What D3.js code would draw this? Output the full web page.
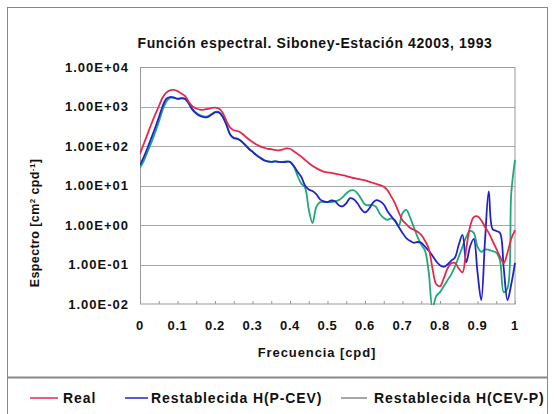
<!DOCTYPE html>
<html><head><meta charset="utf-8">
<script src="https://cdn.jsdelivr.net/npm/d3@7"></script>
<style>body{margin:0;background:#fff}svg{display:block}text{font-family:"Liberation Sans",Arial,sans-serif;font-weight:bold;fill:#111}</style>
</head><body>
<script>
const freq = d3.range(0, 101).map(i => +(i / 100).toFixed(2));
const yTickLabels = ["1.00E+04","1.00E+03","1.00E+02","1.00E+01","1.00E+00","1.00E-01","1.00E-02"];
const yTickValues = [1e4,1e3,1e2,1e1,1e0,1e-1,1e-2];
const xTickValues = [0,0.1,0.2,0.3,0.4,0.5,0.6,0.7,0.8,0.9,1];
const xTickLabels = ["0","0.1","0.2","0.3","0.4","0.5","0.6","0.7","0.8","0.9","1"];
const seriesNames = ["Real","Restablecida H(P-CEV)","Restablecida H(CEV-P)"];
// spectra, log10 of the value
const realLog = [1.80,2.05,2.30,2.55,2.78,3.00,3.22,3.35,3.41,3.42,3.39,3.33,3.27,3.12,3.00,2.95,2.92,2.92,2.94,2.96,2.97,2.95,2.85,2.65,2.47,2.40,2.38,2.33,2.25,2.17,2.10,2.04,1.99,1.96,1.93,1.92,1.90,1.89,1.91,1.94,1.93,1.87,1.80,1.73,1.65,1.57,1.50,1.44,1.39,1.35,1.33,1.32,1.30,1.28,1.26,1.24,1.21,1.19,1.17,1.15,1.13,1.10,1.07,1.04,1.01,0.97,0.88,0.72,0.55,0.32,0.12,0.02,-0.07,-0.12,-0.17,-0.25,-0.40,-0.60,-1.10,-1.50,-1.55,-1.35,-1.10,-0.97,-0.96,-1.10,-1.20,-0.60,-0.05,0.20,0.22,0.12,-0.05,-0.20,-0.40,-0.60,-0.80,-0.96,-0.70,-0.35,-0.13];
const pcevLog = [1.52,1.72,1.95,2.20,2.45,2.72,3.00,3.19,3.24,3.23,3.20,3.21,3.20,3.08,2.92,2.82,2.76,2.73,2.73,2.79,2.85,2.85,2.75,2.55,2.30,2.20,2.18,2.12,2.03,1.93,1.85,1.77,1.70,1.64,1.61,1.60,1.61,1.60,1.59,1.60,1.60,1.50,1.35,1.22,1.00,0.90,0.86,0.78,0.65,0.60,0.58,0.62,0.60,0.50,0.47,0.55,0.68,0.65,0.55,0.40,0.32,0.40,0.55,0.63,0.60,0.52,0.35,0.22,0.10,-0.05,-0.20,-0.33,-0.40,-0.45,-0.43,-0.45,-0.55,-0.65,-0.78,-0.92,-1.02,-1.06,-1.00,-0.90,-0.82,-0.50,-0.25,-0.95,-0.55,-0.35,-1.20,-1.90,-0.40,0.85,-0.10,-0.15,-0.20,-1.10,-1.90,-1.50,-0.96];
const cevpLog = [1.45,1.62,1.85,2.08,2.33,2.60,2.90,3.12,3.22,3.22,3.19,3.20,3.19,3.07,2.92,2.84,2.78,2.75,2.75,2.80,2.86,2.86,2.76,2.55,2.30,2.21,2.19,2.13,2.04,1.94,1.86,1.78,1.71,1.65,1.61,1.60,1.61,1.60,1.60,1.61,1.60,1.48,1.25,1.05,0.95,0.40,0.05,0.45,0.58,0.58,0.58,0.58,0.60,0.63,0.70,0.80,0.87,0.88,0.80,0.66,0.52,0.50,0.51,0.45,0.28,0.18,0.13,0.17,0.12,-0.02,0.30,0.38,0.20,-0.05,-0.30,-0.50,-0.65,-1.20,-2.10,-1.80,-1.70,-1.55,-1.40,-1.25,-1.05,-0.80,-0.55,-0.30,-0.15,-0.20,-0.55,-0.68,-0.62,-0.63,-0.66,-0.70,-0.90,-1.70,-1.60,0.80,1.65];
const seriesLogs = [realLog, pcevLog, cevpLog];
const colors = ["#e8284a","#2222cc","#1fa87a"];

const W = 554, H = 414;
const svg = d3.select("body").append("svg").attr("width", W).attr("height", H);
// frame
svg.append("rect").attr("x",7.5).attr("y",7.5).attr("width",540).attr("height",420).attr("fill","none").attr("stroke","#888").attr("stroke-width",1);
svg.append("line").attr("x1",7).attr("x2",548).attr("y1",377.5).attr("y2",377.5).attr("stroke","#888").attr("stroke-width",2);

const x = d3.scaleLinear().domain([0,1]).range([140,515]);
const y = d3.scaleLog().domain([1e-2,1e4]).range([304,67]);

// gridlines
svg.append("g").selectAll("line").data(yTickValues.slice(1,-1)).join("line")
  .attr("x1",140).attr("x2",515).attr("y1",d=>Math.round(y(d))+0.5).attr("y2",d=>Math.round(y(d))+0.5)
  .attr("stroke","#a8a8a8");
svg.append("rect").attr("x",140.5).attr("y",67.5).attr("width",374.5).attr("height",236.5).attr("fill","none").attr("stroke","#999");

// x axis minor ticks
const xAxis = d3.axisBottom(x).tickValues(d3.range(0,1.0001,0.05)).tickSize(-3).tickFormat("");
svg.append("g").attr("transform","translate(0,304)").call(xAxis).call(g=>{g.select(".domain").remove();g.selectAll("line").attr("stroke","#999");});

// x tick labels
svg.append("g").selectAll("text").data(xTickValues).join("text")
  .attr("x",d=>x(d)).attr("y",330).attr("text-anchor","middle").attr("font-size",13).attr("letter-spacing",0.6).text((d,i)=>xTickLabels[i]);
// y tick labels
svg.append("g").selectAll("text").data(yTickValues).join("text")
  .attr("x",129).attr("y",d=>y(d)+4.5).attr("text-anchor","end").attr("font-size",13).attr("letter-spacing",1).text((d,i)=>yTickLabels[i]);

// titles
svg.append("text").attr("x",315).attr("y",48).attr("text-anchor","middle").attr("font-size",14).attr("letter-spacing",0.6).text("Función espectral. Siboney-Estación 42003, 1993");
svg.append("text").attr("x",317).attr("y",357).attr("text-anchor","middle").attr("font-size",13).attr("letter-spacing",0.9).text("Frecuencia [cpd]");
const yt = svg.append("text").attr("transform","translate(39,223) rotate(-90)").attr("text-anchor","middle").attr("font-size",12.5).attr("letter-spacing",0.4);
yt.append("tspan").text("Espectro [cm");
yt.append("tspan").attr("dy",-4).attr("font-size",8).text("2");
yt.append("tspan").attr("dy",4).text(" cpd");
yt.append("tspan").attr("dy",-4).attr("font-size",8).text("-1");
yt.append("tspan").attr("dy",4).text("]");

// series
svg.append("clipPath").attr("id","clip").append("rect").attr("x",140).attr("y",67).attr("width",376).attr("height",238);
const line = d3.line().x(d=>x(d[0])).y(d=>y(d[1])).curve(d3.curveCatmullRom.alpha(0.5));
const order = [2,1,0];
svg.append("g").attr("clip-path","url(#clip)").selectAll("path").data(order).join("path")
  .attr("d", k => line(freq.map((f,i)=>[f, Math.pow(10, seriesLogs[k][i])])))
  .attr("fill","none").attr("stroke",k=>colors[k]).attr("stroke-width",1.8);

// legend
const legendItems = [
  {lx:[30,58], tx:63, color:colors[0]},
  {lx:[125,148], tx:151, color:colors[1]},
  {lx:[341,367], tx:374, color:"#888"}
];
const lg = svg.append("g");
legendItems.forEach((it,i)=>{
  lg.append("line").attr("x1",it.lx[0]).attr("x2",it.lx[1]).attr("y1",398).attr("y2",398).attr("stroke",it.color).attr("stroke-width",1.5);
  lg.append("text").attr("x",it.tx).attr("y",403).attr("font-size",14).attr("letter-spacing",0.9).text(seriesNames[i]);
});
</script>
</body></html>
